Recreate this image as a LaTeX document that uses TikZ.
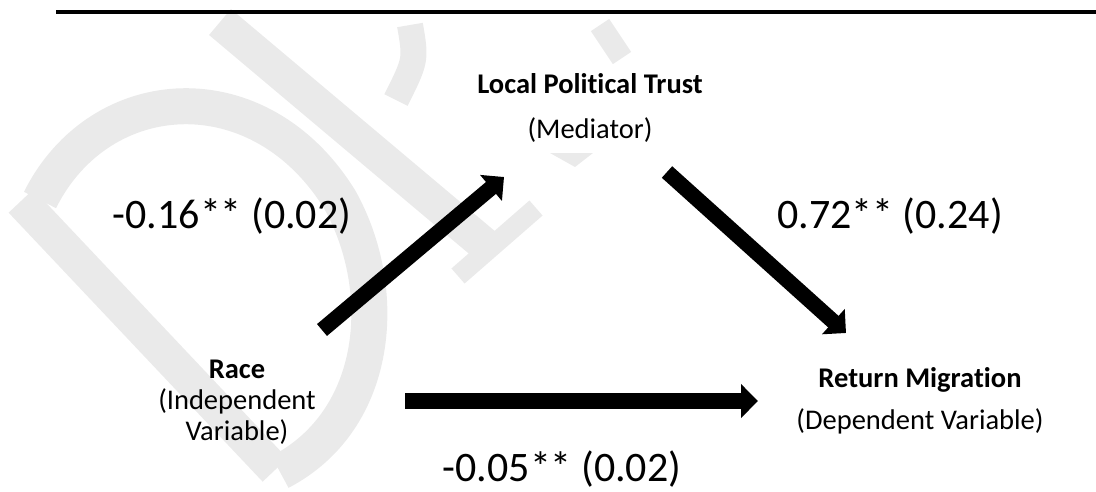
\documentclass[tikz,border=0pt]{standalone}
\usepackage{fontspec}
\setmainfont{Carlito}[Ligatures=NoCommon]
\usetikzlibrary{arrows.meta,positioning}
\definecolor{cInk}{HTML}{000000}
\definecolor{cWater}{HTML}{EAEAEA}
\tikzset{
  var/.style={align=center, inner sep=0pt, anchor=base, text=cInk, font=\fontsize{28.5}{31}\selectfont},
  coef/.style={inner sep=0pt, anchor=base, text=cInk, font=\fontsize{42}{48}\selectfont},
  flow/.style={-{Triangle[length=17pt, width=33pt]}, line width=15.5pt, draw=cInk},
  wmark/.style={draw=cWater, line width=#1},
}
\begin{document}
\begin{tikzpicture}[x=1pt, y=-1pt]
\useasboundingbox (0,0) rectangle (1096,491);
% watermark
\draw[wmark=34pt] (21,201) -- (275,470);
\draw[wmark=36pt] (40,200) .. controls (100,80) and (260,70) .. (340,200) .. controls (390,290) and (380,420) .. (280,472);
\draw[wmark=34pt] (220,22) -- (485,245);
\draw[wmark=20pt] (458,276) -- (536,208);
\draw[wmark=26pt] (410,25) .. controls (416,60) .. (396,100);
\draw[wmark=22pt] (600,25) -- (622,58);
\fill[cWater] (550,153) -- (593,153) -- (575,167) -- cycle;
% rule
\draw[line width=4pt, cInk] (56,12) -- (1096,12);
% variables (base = last line)
\node[var] (race) at (237,440) {\textbf{Race}\\(Independent\\Variable)};
\node[var] (med) at (590,138) {\textbf{Local Political Trust}\\[14pt](Mediator)};
\node[var] (ret) at (920,429) {\textbf{Return Migration}\\[11pt](Dependent Variable)};
% arrow ends
\coordinate (raceUp) at (322,330);
\coordinate (medIn) at (504,177);
\coordinate (medOut) at (667,172);
\coordinate (retIn) at (846,333);
\coordinate (raceRight) at (405,401);
\coordinate (retLeft) at (758,401);
\draw[flow] (raceUp) -- (medIn);
\draw[flow] (medOut) -- (retIn);
\draw[flow] (raceRight) -- (retLeft);
% coefficients
\node[coef] (cA) at (232,228) {-0.16** (0.02)};
\node[coef] (cB) at (890,228) {0.72** (0.24)};
\node[coef] (cC) at (562,481) {-0.05** (0.02)};
\end{tikzpicture}
\end{document}
